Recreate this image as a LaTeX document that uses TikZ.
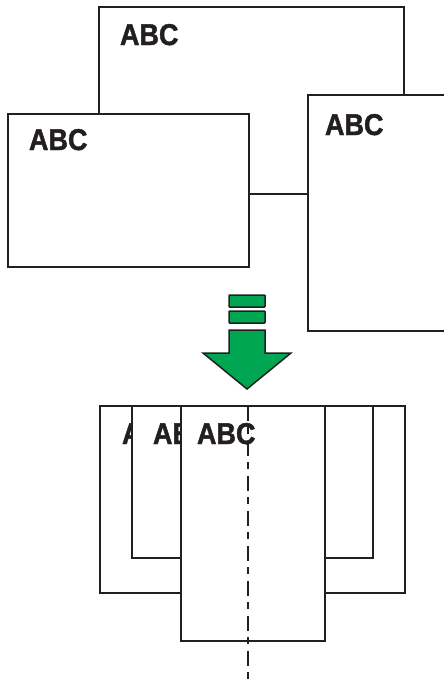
\documentclass[tikz,border=0pt]{standalone}
\usepackage{fontspec}
\usepackage{graphicx}
\setmainfont{Liberation Sans}
\newfontfamily\heavyfont{Liberation Sans Bold}[FakeBold=1.6]
\definecolor{ink}{HTML}{231F20}
\definecolor{arrowgreen}{HTML}{00A651}
\begin{document}
\begin{tikzpicture}[x=1pt,y=-1pt,
  win/.style={draw=ink, line width=1.8pt, fill=white, anchor=north west, inner sep=0pt, outer sep=0pt},
  lbl/.style={anchor=base west, inner sep=0pt, outer sep=0pt, text=ink, font=\heavyfont\fontsize{30}{30}\selectfont},
  grn/.style={draw=ink, line width=1.5pt, fill=arrowgreen, line join=miter},
  bar/.style={grn, rounded corners=0.8pt},
  axis/.style={draw=ink, line width=1.8pt, dash pattern=on 15pt off 6pt on 7pt off 7pt}]
\clip (0,0) rectangle (444,686);
% top: three windows
\node[win, minimum width=305pt, minimum height=187pt] (winA) at (99,7) {};
\node[lbl] (tA) at (120,45) {\scalebox{0.9}[1]{ABC}};
\node[win, minimum width=241pt, minimum height=153pt] (winB) at (8,114) {};
\node[lbl] (tB) at (29,150) {\scalebox{0.9}[1]{ABC}};
\node[win, minimum width=160pt, minimum height=236pt] (winC) at (308,95) {};
\node[lbl] (tC) at (325,135) {\scalebox{0.9}[1]{ABC}};
% green arrow
\draw[bar] (229,295) rectangle (265,307);
\draw[bar] (229,311) rectangle (265,323);
\draw[grn] (229,330) -- (265,330) -- (265,353) -- (291,353) -- (247,389) -- (203,353) -- (229,353) -- cycle;
% bottom: stacked windows
\node[win, minimum width=305pt, minimum height=187pt] (botA) at (100,406) {};
\node[lbl] (bA) at (122,444) {\scalebox{0.9}[1]{ABC}};
\node[win, minimum width=241pt, minimum height=152pt] (botB) at (132,406) {};
\node[lbl] (bB) at (153,444) {\scalebox{0.9}[1]{ABC}};
\node[win, minimum width=144pt, minimum height=235pt] (botC) at (181,406) {};
\node[lbl] (bC) at (197,444) {\scalebox{0.9}[1]{ABC}};
% centre axis
\coordinate (d1) at (248,406);
\coordinate (d2) at (248,684);
\draw[axis] (d1) -- (d2);
\end{tikzpicture}
\end{document}
